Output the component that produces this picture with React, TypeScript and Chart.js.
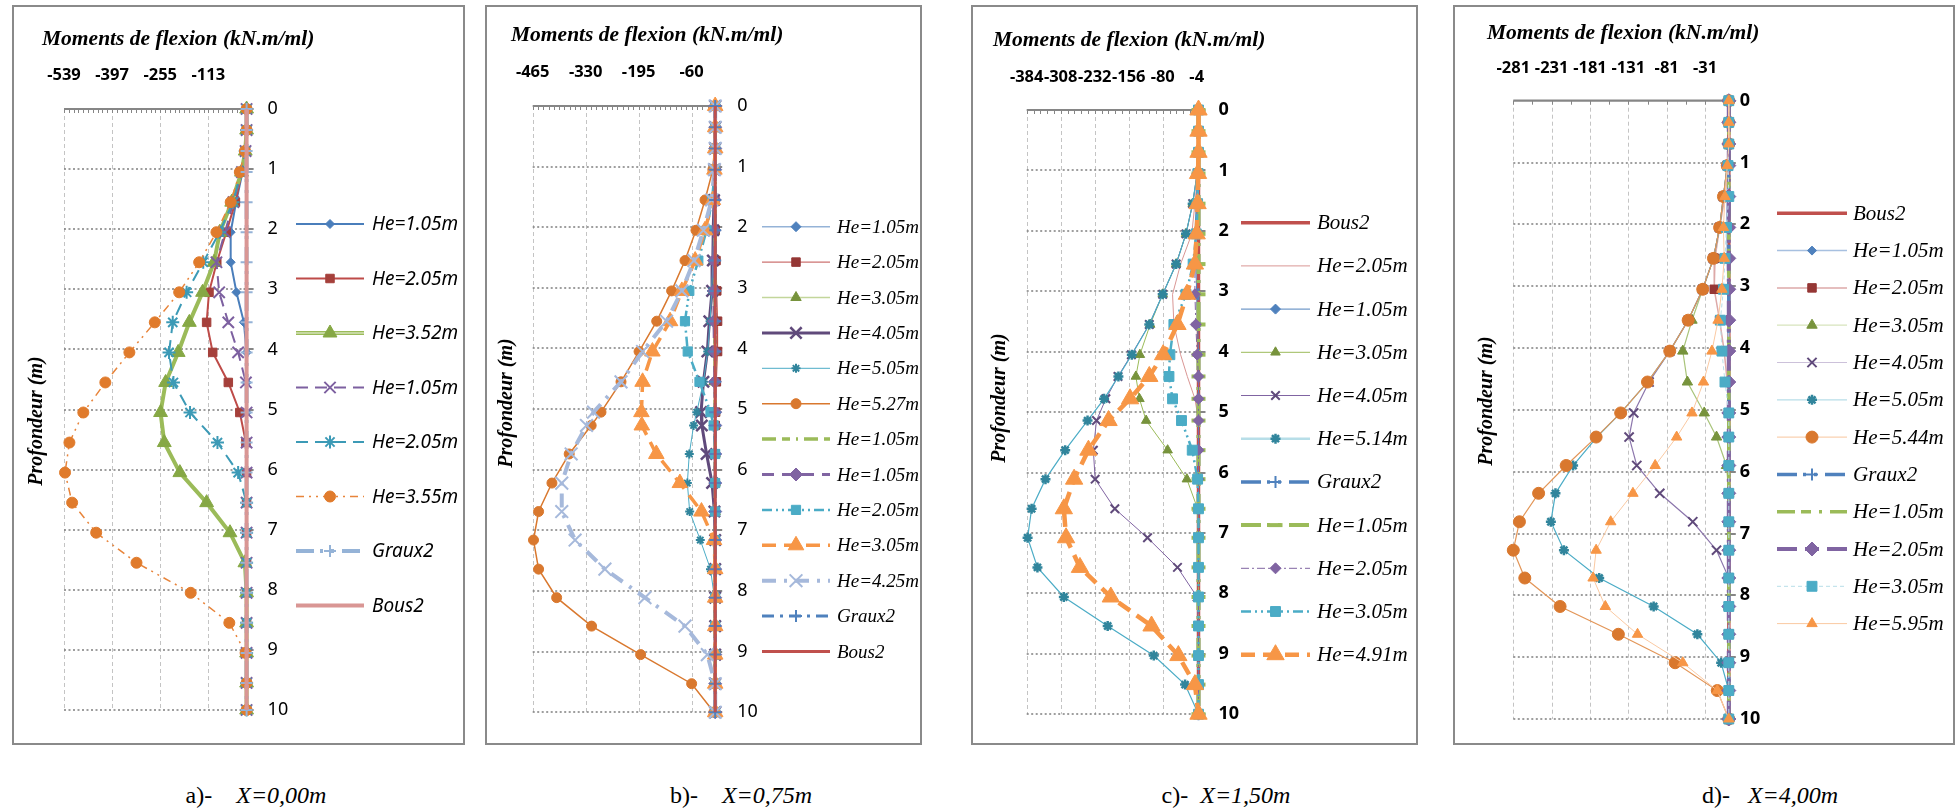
import React, { useEffect, useRef } from "react";
import { Chart, registerables } from "chart.js";

Chart.register(...registerables);

/* ================= Panel a : X = 0,00 m ================= */
const depthA = [0, 0.35, 0.7, 1.05, 1.55, 2.05, 2.55, 3.05, 3.55, 4.05, 4.55, 5.05, 5.55, 6.05, 6.55, 7.05, 7.55, 8.05, 8.55, 9.05, 9.55, 10];
const xTicksA = [-539, -397, -255, -113];
const a_He105 = [0, 0, -2, -12, -31, -47, -47, -30, -8, 0, 0, 0, 0, 0, 0, 0, 0, 0, 0, 0, 0, 0];
const a_He205 = [0, 0, -3, -14, -33, -60, -88, -111, -118, -100, -54, -20, -2, 0, 0, 0, 0, 0, 0, 0, 0, 0];
const a_He352 = [0, 0, -4, -15, -44, -79, -96, -130, -169, -202, -239, -254, -243, -197, -118, -49, -5, 0, 0, 0, 0, 0];
const a_He105b = [0, 0, -3, -14, -39, -64, -89, -81, -54, -25, -2, 0, 0, 0, 0, 0, 0, 0, 0, 0, 0, 0];
const a_He205b = [0, 0, -4, -17, -40, -80, -128, -177, -218, -229, -216, -167, -86, -25, 0, 0, 0, 0, 0, 0, 0, 0];
const a_He355 = [0, 0, -5, -20, -47, -89, -140, -199, -271, -346, -417, -482, -523, -536, -515, -444, -325, -165, -51, -3, 0, 0];
const a_Graux2 = [0, 0, 0, 0, 0, 0, 0, 0, 0, 0, 0, 0, 0, 0, 0, 0, 0, 0, 0, 0, 0, 0];
const a_Bous2 = [0, 0, 0, 0, 0, 0, 0, 0, 0, 0, 0, 0, 0, 0, 0, 0, 0, 0, 0, 0, 0, 0];

/* ================= Panel b : X = 0,75 m ================= */
const depthB = [0, 0.35, 0.7, 1.05, 1.55, 2.05, 2.55, 3.05, 3.55, 4.05, 4.55, 5.05, 5.27, 5.74, 6.22, 6.69, 7.16, 7.64, 8.11, 8.58, 9.05, 9.53, 10];
const xTicksB = [-465, -330, -195, -60];
const b_He105 = [0, 0, 0, -1, -2, -3, -3, -2, -1, 0, 0, 0, 0, 0, 0, 0, 0, 0, 0, 0, 0, 0, 0];
const b_He205 = [0, 0, 0, 0, -1, 0, 2, 4, 6, 6, 3, 1, 0, 0, 0, 0, 0, 0, 0, 0, 0, 0, 0];
const b_He305 = [0, 0, 0, -1, -2, -3, -4, -4, -4, -3, -3, -1, 0, 0, 0, 0, 0, 0, 0, 0, 0, 0, 0];
const b_He405 = [0, 0, 0, -2, -3, -5, -6, -8, -15, -20, -30, -36, -34, -22, -8, -2, 0, 0, 0, 0, 0, 0, 0];
const b_He505 = [0, 0, 0, 0, -2, -4, -6, -9, -13, -19, -30, -47, -55, -66, -71, -65, -38, -12, -2, 0, 0, 0, 0];
const b_He527 = [0, 0, -2, -6, -26, -49, -77, -111, -149, -194, -240, -291, -316, -372, -416, -450, -463, -450, -404, -315, -190, -60, -3];
const b_He105b = [0, 0, 0, 0, 0, 0, 0, 0, 0, 0, 0, 0, 0, 0, 0, 0, 0, 0, 0, 0, 0, 0, 0];
const b_He105c = [0, 0, 0, 0, -1, -2, -3, -3, -3, -2, -1, 0, 0, 0, 0, 0, 0, 0, 0, 0, 0, 0, 0];
const b_He205b = [0, 0, 0, -1, -8, -22, -43, -66, -77, -70, -40, -12, -4, 0, 0, 0, 0, 0, 0, 0, 0, 0, 0];
const b_He305b = [0, 0, 0, -2, -6, -26, -51, -85, -115, -160, -185, -188, -187, -150, -90, -35, -3, 0, 0, 0, 0, 0, 0];
const b_He425 = [0, 0, 0, -2, -9, -30, -54, -85, -124, -185, -240, -310, -328, -367, -391, -391, -357, -281, -179, -77, -20, 0, 0];
const b_Graux2 = [0, 0, 0, 0, 0, 0, 0, 0, 0, 0, 0, 0, 0, 0, 0, 0, 0, 0, 0, 0, 0, 0, 0];
const b_Bous2 = [0, 0, 0, 0, 0, 0, 0, 0, 0, 0, 0, 0, 0, 0, 0, 0, 0, 0, 0, 0, 0, 0, 0];

/* ================= Panel c : X = 1,50 m ================= */
const depthC = [0, 0.35, 0.7, 1.05, 1.55, 2.05, 2.55, 3.05, 3.55, 4.05, 4.41, 4.78, 5.14, 5.63, 6.11, 6.6, 7.08, 7.57, 8.06, 8.54, 9.03, 9.51, 10];
const xTicksC = [-384, -308, -232, -156, -80, -4];
const c_Bous2 = [0, 0, 0, 0, 0, 0, 0, 0, 0, 0, 0, 0, 0, 0, 0, 0, 0, 0, 0, 0, 0, 0, 0];
const c_He205 = [0, 0, 0, -2, -8, -15, -40, -58, -55, -40, -25, -8, 0, 0, 0, 0, 0, 0, 0, 0, 0, 0, 0];
const c_He105 = [0, 0, 0, -2, -5, -8, -6, -4, -2, 0, 0, 0, 0, 0, 0, 0, 0, 0, 0, 0, 0, 0, 0];
const c_He305 = [0, 0, 0, -3, -13, -28, -50, -80, -108, -131, -140, -132, -117, -69, -26, -2, 0, 0, 0, 0, 0, 0, 0];
const c_He405 = [0, 0, 0, -3, -13, -28, -50, -80, -110, -150, -180, -207, -228, -235, -231, -187, -114, -47, -3, 0, 0, 0, 0];
const c_He514 = [0, 0, 0, -3, -13, -28, -50, -80, -110, -149, -179, -211, -248, -298, -342, -373, -382, -360, -301, -203, -100, -30, 0];
const c_Graux2 = [0, 0, 0, 0, 0, 0, 0, 0, 0, 0, 0, 0, 0, 0, 0, 0, 0, 0, 0, 0, 0, 0, 0];
const c_He105b = [0, 0, 0, 0, 0, 0, 0, 0, 0, 0, 0, 0, 0, 0, 0, 0, 0, 0, 0, 0, 0, 0, 0];
const c_He205b = [0, 0, 0, -2, -3, -5, -8, -8, -6, -3, 0, 0, 0, 0, 0, 0, 0, 0, 0, 0, 0, 0, 0];
const c_He305b = [0, 0, 0, -1, -2, -5, -12, -28, -55, -64, -66, -58, -38, -14, -2, 0, 0, 0, 0, 0, 0, 0, 0];
const c_He491 = [0, 0, 0, -1, -2, -4, -8, -26, -47, -79, -110, -153, -201, -246, -278, -301, -296, -265, -196, -105, -45, -8, 0];

/* ================= Panel d : X = 4,00 m ================= */
const depthD = [0, 0.35, 0.7, 1.05, 1.55, 2.05, 2.55, 3.05, 3.55, 4.05, 4.55, 5.05, 5.44, 5.9, 6.35, 6.81, 7.27, 7.72, 8.18, 8.63, 9.09, 9.54, 10];
const xTicksD = [-281, -231, -181, -131, -81, -31];
const d_Bous2 = [0, 0, 0, 0, 0, 0, 0, 0, 0, 0, 0, 0, 0, 0, 0, 0, 0, 0, 0, 0, 0, 0, 0];
const d_He105 = [0, 0, 0, 0, -2, -3, -2, -1, 0, 0, 0, 0, 0, 0, 0, 0, 0, 0, 0, 0, 0, 0, 0];
const d_He205 = [0, 0, 0, -1, -5, -12, -18, -19, -12, -6, -2, 0, 0, 0, 0, 0, 0, 0, 0, 0, 0, 0, 0];
const d_He305 = [0, 0, 0, -2, -7, -12, -20, -34, -48, -60, -54, -32, -16, -3, 0, 0, 0, 0, 0, 0, 0, 0, 0];
const d_He405 = [0, 0, 0, -2, -7, -12, -20, -34, -53, -77, -104, -124, -130, -120, -90, -47, -16, 0, 0, 0, 0, 0, 0];
const d_He505 = [0, 0, 0, -2, -7, -12, -20, -34, -53, -77, -106, -141, -172, -203, -226, -232, -215, -169, -98, -41, -10, 0, 0];
const d_He544 = [0, 0, 0, -2, -7, -12, -20, -34, -53, -77, -106, -141, -173, -212, -248, -273, -281, -266, -220, -144, -70, -15, 0];
const d_Graux2 = [0, 0, 0, 0, 0, 0, 0, 0, 0, 0, 0, 0, 0, 0, 0, 0, 0, 0, 0, 0, 0, 0, 0];
const d_He105b = [0, 0, 0, 0, 0, 0, 0, 0, 0, 0, 0, 0, 0, 0, 0, 0, 0, 0, 0, 0, 0, 0, 0];
const d_He205b = [0, 0, 0, 0, 0, 0, 0, 0, 0, 0, 0, 0, 0, 0, 0, 0, 0, 0, 0, 0, 0, 0, 0];
const d_He305b = [0, 0, 0, -1, 0, -3, -5, -7, -11, -9, -5, 0, 0, 0, 0, 0, 0, 0, 0, 0, 0, 0, 0];
const d_He595 = [0, 0, 0, -2, -5, -7, -6, -9, -14, -22, -33, -48, -68, -96, -125, -154, -173, -177, -161, -119, -60, -15, 0];

/* ================= shared text ================= */
const depthTicks = [0, 1, 2, 3, 4, 5, 6, 7, 8, 9, 10];
const TITLE = "Moments de flexion (kN.m/ml)";
const YTITLE = "Profondeur (m)";

const SANS = '"Noto Sans", "DejaVu Sans", sans-serif';
const SERIF = '"Liberation Serif", "DejaVu Serif", serif';

const SOLID: number[] = [];

type Series = {
  label: string; v: number[]; c: string; w: number; d: number[];
  m?: string; mc?: string; r?: number; mlw?: number;
  lc?: string; lw?: number; inner?: string;
};

const panels: any[] = [
  {
    key: "a",
    box: { x: 12, y: 5, w: 453, h: 740 },
    plot: { l: 64, r: 246.6, t: 109, b: 710 },
    min: -539, xTicks: xTicksA, minor: 14.2, depth: depthA,
    xTickFont: { family: SANS, size: 16.5, weight: "bold" }, xTickPad: 24,
    yTickFont: { family: SANS, size: 18, weight: "normal" }, yTickPad: 21,
    title: { x: 42, y: 39 }, yTitle: { x: 37, y: 421 },
    legend: { x1: 296, x2: 364, tx: 372, y0: 224, dy: 54.5, font: `italic 19px ${SANS}` },
    caption: { cx: 256, cy: 795, pre: "a)-", gap: "    ", main: "X=0,00m" },
    series: [
      { label: "He=1.05m", v: a_He105, c: "#4A7EBB", w: 2, d: SOLID, m: "rectRot", mc: "#4A7EBB", r: 4.5 },
      { label: "He=2.05m", v: a_He205, c: "#BE4B48", w: 2, d: SOLID, m: "rect", mc: "#A5403B", r: 6 },
      { label: "He=3.52m", v: a_He352, c: "#9BBB59", w: 4, d: SOLID, m: "triangle", mc: "#86A845", r: 8, inner: "#F2F6EA" },
      { label: "He=1.05m", v: a_He105b, c: "#7D60A0", w: 2, d: [12, 7], m: "crossRot", mc: "#7D60A0", r: 8, mlw: 2 },
      { label: "He=2.05m", v: a_He205b, c: "#3C9AB6", w: 2, d: [12, 7], m: "star", mc: "#3C9AB6", r: 6.5, mlw: 2 },
      { label: "He=3.55m", v: a_He355, c: "#E8843A", w: 1.5, d: [8, 5, 2, 5, 2, 5], m: "circle", mc: "#E07B2C", r: 5.5 },
      { label: "Graux2", v: a_Graux2, c: "#95B3D7", w: 4, d: [18, 6, 3, 8, 3, 8], m: "cross", mc: "#95B3D7", r: 6, mlw: 2 },
      { label: "Bous2", v: a_Bous2, c: "#D99694", w: 4, d: SOLID },
    ],
  },
  {
    key: "b",
    box: { x: 485, y: 5, w: 437, h: 740 },
    plot: { l: 532.7, r: 715.2, t: 106, b: 716 },
    min: -465, xTicks: xTicksB, minor: 13.5, depth: depthB,
    xTickFont: { family: SANS, size: 16.5, weight: "bold" }, xTickPad: 24,
    yTickFont: { family: SANS, size: 18, weight: "normal" }, yTickPad: 22,
    title: { x: 511, y: 35 }, yTitle: { x: 507, y: 403 },
    legend: { x1: 762, x2: 830, tx: 837, y0: 226.7, dy: 35.4, font: `italic 19px ${SERIF}` },
    caption: { cx: 741, cy: 795, pre: "b)-", gap: "    ", main: "X=0,75m" },
    series: [
      { label: "He=1.05m", v: b_He105, c: "#95B3D7", w: 1.5, d: SOLID, m: "rectRot", mc: "#4F81BD", r: 5 },
      { label: "He=2.05m", v: b_He205, c: "#C0504D", w: 1, d: SOLID, m: "rect", mc: "#953735", r: 6 },
      { label: "He=3.05m", v: b_He305, c: "#C3D69B", w: 1.5, d: SOLID, m: "triangle", mc: "#77933C", r: 6 },
      { label: "He=4.05m", v: b_He405, c: "#604A7B", w: 3, d: SOLID, m: "crossRot", mc: "#604A7B", r: 8, mlw: 2.5 },
      { label: "He=5.05m", v: b_He505, c: "#4BACC6", w: 1, d: SOLID, m: "star", mc: "#31859C", r: 4.5, mlw: 2 },
      { label: "He=5.27m", v: b_He527, c: "#D9782E", w: 1.5, d: SOLID, m: "circle", mc: "#D9782E", r: 5 },
      { label: "He=1.05m", v: b_He105b, c: "#9BBB59", w: 3.5, d: [14, 6, 8, 6, 2, 6] },
      { label: "He=1.05m", v: b_He105c, c: "#8064A2", w: 3, d: [12, 8], m: "rectRot", mc: "#8064A2", r: 6.5 },
      { label: "He=2.05m", v: b_He205b, c: "#4BACC6", w: 2.5, d: [10, 4, 2, 4, 2, 4], m: "rect", mc: "#4BACC6", r: 6.5 },
      { label: "He=3.05m", v: b_He305b, c: "#F79646", w: 3.5, d: [14, 8], m: "triangle", mc: "#F79646", r: 9 },
      { label: "He=4.25m", v: b_He425, c: "#A6B9DB", w: 4, d: [14, 8, 3, 8], m: "crossRot", mc: "#A6B9DB", r: 9, mlw: 2 },
      { label: "Graux2", v: b_Graux2, c: "#4F81BD", w: 3, d: [12, 6, 3, 6], m: "cross", mc: "#4F81BD", r: 6, mlw: 2 },
      { label: "Bous2", v: b_Bous2, c: "#C0504D", w: 3, d: SOLID },
    ],
  },
  {
    key: "c",
    box: { x: 971, y: 5, w: 447, h: 740 },
    plot: { l: 1026.7, r: 1198.5, t: 110, b: 721 },
    min: -384, xTicks: xTicksC, minor: 15.2, depth: depthC,
    xTickFont: { family: SANS, size: 16.5, weight: "bold" }, xTickPad: 23,
    yTickFont: { family: SANS, size: 18, weight: "bold" }, yTickPad: 20,
    title: { x: 993, y: 40 }, yTitle: { x: 1000, y: 398 },
    legend: { x1: 1241, x2: 1310, tx: 1317, y0: 222.7, dy: 43.2, font: `italic 21px ${SERIF}` },
    caption: { cx: 1226, cy: 795, pre: "c)-", gap: "  ", main: "X=1,50m" },
    series: [
      { label: "Bous2", v: c_Bous2, c: "#C0504D", w: 3.5, d: SOLID },
      { label: "He=2.05m", v: c_He205, c: "#D99694", w: 1, d: SOLID },
      { label: "He=1.05m", v: c_He105, c: "#4F81BD", w: 1, d: SOLID, m: "rectRot", mc: "#4F81BD", r: 5 },
      { label: "He=3.05m", v: c_He305, c: "#9BBB59", w: 1, d: SOLID, m: "triangle", mc: "#77933C", r: 5.5 },
      { label: "He=4.05m", v: c_He405, c: "#8064A2", w: 1, d: SOLID, m: "crossRot", mc: "#604A7B", r: 6, mlw: 2 },
      { label: "He=5.14m", v: c_He514, c: "#4BACC6", w: 1.2, d: SOLID, m: "star", mc: "#31859C", r: 5, mlw: 2.5, lc: "#B7DEE8", lw: 2.5 },
      { label: "Graux2", v: c_Graux2, c: "#4F81BD", w: 3.5, d: [20, 6, 3, 8, 3, 8], m: "cross", mc: "#4F81BD", r: 6, mlw: 2 },
      { label: "He=1.05m", v: c_He105b, c: "#9BBB59", w: 4, d: [20, 6, 3, 8, 3, 8], m: "line", mc: "#9BBB59", r: 7, mlw: 4 },
      { label: "He=2.05m", v: c_He205b, c: "#8064A2", w: 1, d: [8, 3, 2, 3], m: "rectRot", mc: "#8064A2", r: 5.5 },
      { label: "He=3.05m", v: c_He305b, c: "#4BACC6", w: 2.5, d: [10, 4, 2, 4, 2, 4], m: "rect", mc: "#4BACC6", r: 7 },
      { label: "He=4.91m", v: c_He491, c: "#F79646", w: 4.5, d: [14, 8], m: "triangle", mc: "#F79646", r: 10 },
    ],
  },
  {
    key: "d",
    box: { x: 1453, y: 5, w: 502, h: 740 },
    plot: { l: 1513.3, r: 1728.8, t: 100.7, b: 719 },
    min: -281, xTicks: xTicksD, minor: 25, depth: depthD,
    xTickFont: { family: SANS, size: 16.5, weight: "bold" }, xTickPad: 22.5,
    yTickFont: { family: SANS, size: 18, weight: "bold" }, yTickPad: 11,
    title: { x: 1487, y: 33 }, yTitle: { x: 1487, y: 401 },
    legend: { x1: 1777, x2: 1847, tx: 1853, y0: 213.3, dy: 37.3, font: `italic 21px ${SERIF}` },
    caption: { cx: 1770, cy: 795, pre: "d)-", gap: "   ", main: "X=4,00m" },
    series: [
      { label: "Bous2", v: d_Bous2, c: "#C0504D", w: 3.5, d: SOLID },
      { label: "He=1.05m", v: d_He105, c: "#A7C0E0", w: 1.5, d: SOLID, m: "rectRot", mc: "#4F81BD", r: 4.5 },
      { label: "He=2.05m", v: d_He205, c: "#DDA9A8", w: 1.5, d: SOLID, m: "rect", mc: "#953735", r: 6 },
      { label: "He=3.05m", v: d_He305, c: "#A9C47A", w: 1.2, d: SOLID, m: "triangle", mc: "#77933C", r: 6, lc: "#D7E4BD" },
      { label: "He=4.05m", v: d_He405, c: "#8C76AC", w: 1.2, d: SOLID, m: "crossRot", mc: "#604A7B", r: 6.5, mlw: 2, lc: "#CCC1DA" },
      { label: "He=5.05m", v: d_He505, c: "#4BACC6", w: 1.2, d: SOLID, m: "star", mc: "#31859C", r: 5, mlw: 2.5, lc: "#B7DEE8" },
      { label: "He=5.44m", v: d_He544, c: "#E39658", w: 1.2, d: SOLID, m: "circle", mc: "#D9782E", r: 6, lc: "#FAD1B0" },
      { label: "Graux2", v: d_Graux2, c: "#4F81BD", w: 3.5, d: [20, 6, 3, 8, 3, 8], m: "cross", mc: "#4F81BD", r: 6, mlw: 2 },
      { label: "He=1.05m", v: d_He105b, c: "#9BBB59", w: 3.5, d: [18, 6, 10, 8, 3, 8] },
      { label: "He=2.05m", v: d_He205b, c: "#8064A2", w: 4, d: [20, 8, 3, 8, 3, 8], m: "rectRot", mc: "#8064A2", r: 7 },
      { label: "He=3.05m", v: d_He305b, c: "#B7DEE8", w: 1, d: [4, 3], m: "rect", mc: "#4BACC6", r: 7 },
      { label: "He=5.95m", v: d_He595, c: "#FAC9A2", w: 1, d: SOLID, m: "triangle", mc: "#F79646", r: 6 },
    ],
  },
];

/* ================= drawing helpers ================= */
function seg(ctx: CanvasRenderingContext2D, x1: number, y1: number, x2: number, y2: number) {
  ctx.beginPath();
  ctx.moveTo(x1, y1);
  ctx.lineTo(x2, y2);
  ctx.stroke();
}

function drawMarker(ctx: CanvasRenderingContext2D, style: string, x: number, y: number, r: number, color: string, lw: number) {
  ctx.save();
  ctx.setLineDash([]);
  ctx.fillStyle = color;
  ctx.strokeStyle = color;
  ctx.lineWidth = lw;
  const s = r * Math.SQRT1_2;
  ctx.beginPath();
  if (style === "circle") {
    ctx.arc(x, y, r, 0, Math.PI * 2);
    ctx.fill(); ctx.stroke();
  } else if (style === "rect") {
    ctx.rect(x - s, y - s, 2 * s, 2 * s);
    ctx.fill(); ctx.stroke();
  } else if (style === "rectRot") {
    ctx.moveTo(x - r, y); ctx.lineTo(x, y - r); ctx.lineTo(x + r, y); ctx.lineTo(x, y + r); ctx.closePath();
    ctx.fill(); ctx.stroke();
  } else if (style === "triangle") {
    ctx.moveTo(x, y - r); ctx.lineTo(x + r * 0.866, y + r * 0.5); ctx.lineTo(x - r * 0.866, y + r * 0.5); ctx.closePath();
    ctx.fill(); ctx.stroke();
  } else if (style === "crossRot") {
    ctx.moveTo(x - s, y - s); ctx.lineTo(x + s, y + s); ctx.moveTo(x + s, y - s); ctx.lineTo(x - s, y + s);
    ctx.stroke();
  } else if (style === "cross") {
    ctx.moveTo(x - r, y); ctx.lineTo(x + r, y); ctx.moveTo(x, y - r); ctx.lineTo(x, y + r);
    ctx.stroke();
  } else if (style === "star") {
    ctx.moveTo(x - r, y); ctx.lineTo(x + r, y); ctx.moveTo(x, y - r); ctx.lineTo(x, y + r);
    ctx.moveTo(x - s, y - s); ctx.lineTo(x + s, y + s); ctx.moveTo(x + s, y - s); ctx.lineTo(x - s, y + s);
    ctx.stroke();
  } else if (style === "line") {
    ctx.moveTo(x - r, y); ctx.lineTo(x + r, y);
    ctx.stroke();
  }
  ctx.restore();
}

function makeDecor(p: any) {
  const bx = p.box.x;
  const by = p.box.y;
  return {
    id: "decor_" + p.key,
    beforeDatasetsDraw(chart: any) {
      const ctx: CanvasRenderingContext2D = chart.ctx;
      const xs = chart.scales.x;
      const ys = chart.scales.y;
      const { left, right, top, bottom } = chart.chartArea;
      ctx.save();
      ctx.strokeStyle = "#c4c4c4";
      ctx.lineWidth = 1;
      ctx.setLineDash([4, 3]);
      p.xTicks.forEach((v: number) => {
        const x = Math.round(xs.getPixelForValue(v)) + 0.5;
        seg(ctx, x, top, x, bottom);
      });
      ctx.strokeStyle = "#7f7f7f";
      ctx.lineWidth = 1.6;
      ctx.setLineDash([2, 2.5]);
      depthTicks.forEach((d) => {
        if (d === 0) return;
        const y = Math.round(ys.getPixelForValue(d));
        seg(ctx, left, y, right, y);
      });
      ctx.setLineDash([]);
      ctx.strokeStyle = "#868686";
      ctx.lineWidth = 2.2;
      seg(ctx, left, top, right, top);
      ctx.lineWidth = 1;
      for (let v = p.min; v <= 0.001; v += p.minor) {
        const x = Math.round(xs.getPixelForValue(v)) + 0.5;
        seg(ctx, x, top, x, top + 4);
      }
      const x0 = xs.getPixelForValue(0);
      ctx.lineWidth = 2.5;
      seg(ctx, x0, top, x0, bottom);
      ctx.lineWidth = 2;
      depthTicks.forEach((d) => {
        const y = Math.round(ys.getPixelForValue(d));
        seg(ctx, x0 - 3, y, x0 + 7, y);
      });
      ctx.restore();
    },
    afterDraw(chart: any) {
      const ctx: CanvasRenderingContext2D = chart.ctx;
      ctx.save();
      ctx.fillStyle = "#000";
      ctx.font = `italic bold 21.5px ${SERIF}`;
      ctx.textAlign = "left";
      ctx.textBaseline = "middle";
      ctx.fillText(TITLE, p.title.x - bx, p.title.y - by);
      ctx.save();
      ctx.translate(p.yTitle.x - bx, p.yTitle.y - by);
      ctx.rotate(-Math.PI / 2);
      ctx.textAlign = "center";
      ctx.font = `italic bold 20px ${SERIF}`;
      ctx.fillText(YTITLE, 0, 0);
      ctx.restore();
      const L = p.legend;
      p.series.forEach((s: Series, i: number) => {
        const y = L.y0 + i * L.dy - by;
        const x1 = L.x1 - bx;
        const x2 = L.x2 - bx;
        ctx.save();
        ctx.strokeStyle = s.lc || s.c;
        ctx.lineWidth = s.lw || s.w;
        ctx.setLineDash(s.d);
        seg(ctx, x1, y, x2, y);
        if (s.inner) {
          ctx.setLineDash([]);
          ctx.strokeStyle = s.inner;
          ctx.lineWidth = 1.2;
          seg(ctx, x1, y, x2, y);
        }
        ctx.restore();
        if (s.m) drawMarker(ctx, s.m, (x1 + x2) / 2, y, s.r || 5, s.mc || s.c, s.mlw || 1);
        ctx.font = L.font;
        ctx.fillStyle = "#000";
        ctx.textAlign = "left";
        ctx.textBaseline = "middle";
        ctx.fillText(s.label, L.tx - bx, y + 1);
      });
      ctx.restore();
    },
  };
}

function buildConfig(p: any) {
  const bx = p.box.x;
  const by = p.box.y;
  const plotL = p.plot.l - bx;
  const plotR = p.plot.r - bx;
  const plotT = p.plot.t - by;
  const plotB = p.plot.b - by;
  const yW = 60;
  const datasets: any[] = [];
  p.series.forEach((s: Series, i: number) => {
    const pts = p.depth.map((d: number, k: number) => ({ x: s.v[k], y: d }));
    datasets.push({
      label: s.label,
      data: pts,
      showLine: true,
      borderColor: s.c,
      backgroundColor: s.c,
      borderWidth: s.w,
      borderDash: s.d,
      pointStyle: s.m || "circle",
      pointRadius: s.m ? s.r : 0,
      pointHoverRadius: s.m ? s.r : 0,
      pointBackgroundColor: s.mc || s.c,
      pointBorderColor: s.mc || s.c,
      pointBorderWidth: s.mlw || 1,
      tension: 0,
      clip: false,
      order: -(i * 2),
    });
    if (s.inner) {
      datasets.push({
        label: s.label + " (inner)",
        data: pts,
        showLine: true,
        borderColor: s.inner,
        borderWidth: 1.2,
        pointRadius: 0,
        tension: 0,
        clip: false,
        order: -(i * 2) + 1,
      });
    }
  });
  return {
    type: "scatter",
    data: { datasets },
    options: {
      animation: false,
      responsive: false,
      devicePixelRatio: 1,
      events: [],
      layout: {
        padding: { left: plotL, top: 0, right: p.box.w - plotR - yW, bottom: p.box.h - plotB },
      },
      plugins: { legend: { display: false }, tooltip: { enabled: false }, title: { display: false } },
      scales: {
        x: {
          type: "linear",
          position: "top",
          min: p.min,
          max: 0,
          grid: { display: false, drawTicks: false },
          border: { display: false },
          ticks: {
            color: "#000",
            font: p.xTickFont,
            padding: p.xTickPad,
            maxRotation: 0,
            autoSkip: false,
            callback: (v: any) => String(v),
          },
          afterBuildTicks: (scale: any) => {
            scale.ticks = p.xTicks.map((v: number) => ({ value: v }));
          },
          afterFit: (scale: any) => {
            scale.height = plotT;
          },
        },
        y: {
          type: "linear",
          position: "right",
          reverse: true,
          min: 0,
          max: 10,
          grid: { display: false, drawTicks: false },
          border: { display: false },
          ticks: {
            stepSize: 1,
            color: "#000",
            font: p.yTickFont,
            padding: p.yTickPad,
            callback: (v: any) => String(v),
          },
          afterBuildTicks: (scale: any) => {
            scale.ticks = depthTicks.map((v) => ({ value: v }));
          },
          afterFit: (scale: any) => {
            scale.width = yW;
          },
        },
      },
    },
    plugins: [makeDecor(p)],
  };
}

function Panel({ p }: { p: any }) {
  const ref = useRef<HTMLCanvasElement | null>(null);
  useEffect(() => {
    if (!ref.current) return;
    const chart = new Chart(ref.current, buildConfig(p) as any);
    return () => chart.destroy();
  }, [p]);
  return (
    <>
      <div
        style={{
          position: "absolute",
          left: p.box.x,
          top: p.box.y,
          width: p.box.w,
          height: p.box.h,
          border: "2px solid #8a8a8a",
          boxSizing: "border-box",
        }}
      >
        <canvas
          ref={ref}
          width={p.box.w}
          height={p.box.h}
          style={{ position: "absolute", left: -2, top: -2, width: p.box.w, height: p.box.h }}
        />
      </div>
      <div
        style={{
          position: "absolute",
          left: p.caption.cx,
          top: p.caption.cy,
          transform: "translate(-50%, -50%)",
          fontFamily: SERIF,
          fontSize: 24,
          whiteSpace: "pre",
          color: "#000",
        }}
      >
        {p.caption.pre + p.caption.gap}
        <i>{p.caption.main}</i>
      </div>
    </>
  );
}

export default function App() {
  return (
    <div style={{ position: "absolute", left: 0, top: 0, width: 1959, height: 811, background: "#fff", overflow: "hidden" }}>
      {panels.map((p) => (
        <Panel key={p.key} p={p} />
      ))}
    </div>
  );
}
